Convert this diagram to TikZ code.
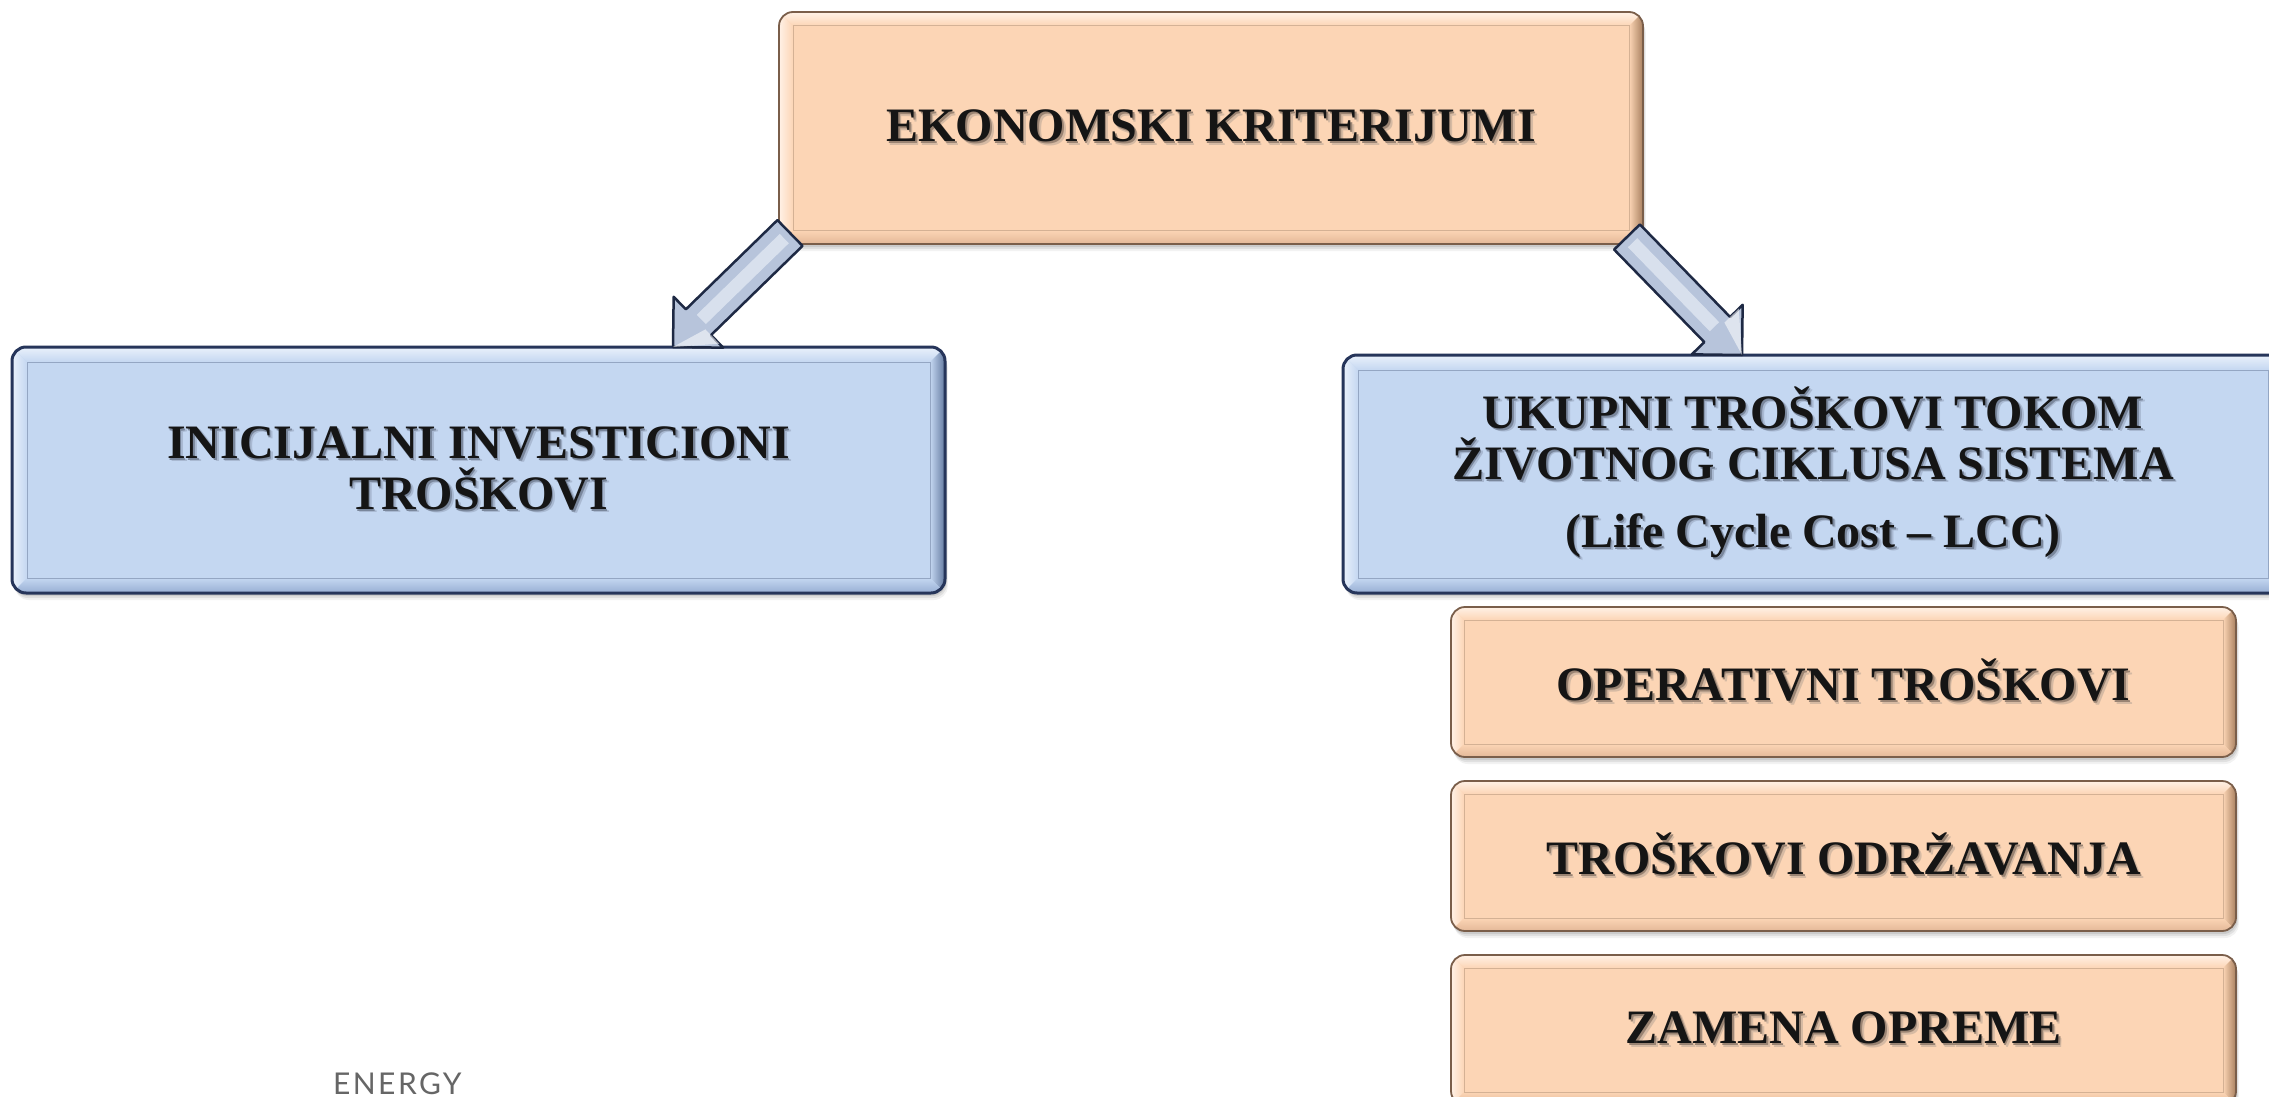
\documentclass[tikz,border=0pt]{standalone}
\usepackage{fontspec}
\setmainfont{Liberation Serif}
\newfontfamily\energyfont[LetterSpace=8]{Lato}
\usetikzlibrary{calc}
\pgfdeclarelayer{background}
\pgfsetlayers{background,main}

% colour sets for the bevelled boxes
\definecolor{peachFace}{HTML}{FCD5B5}
\definecolor{peachLight}{HTML}{FFF1E6}
\definecolor{peachLow}{HTML}{E3B898}
\definecolor{peachDark}{HTML}{A8805F}
\definecolor{peachLine}{HTML}{7A5E4A}
\definecolor{peachShA}{HTML}{9A8473}
\definecolor{peachShB}{HTML}{D6BAA3}
\definecolor{blueFace}{HTML}{C4D7F1}
\definecolor{blueLight}{HTML}{EAF1FB}
\definecolor{blueLow}{HTML}{97AED3}
\definecolor{blueDark}{HTML}{63799F}
\definecolor{blueLine}{HTML}{26355A}
\definecolor{blueShA}{HTML}{7A879C}
\definecolor{blueShB}{HTML}{A9B9D2}
\definecolor{arrowFill}{HTML}{B7C4DB}
\definecolor{arrowGlow}{HTML}{E4EAF4}
\definecolor{arrowLine}{HTML}{1E2944}
\definecolor{txt}{HTML}{151515}
\definecolor{energyGrey}{HTML}{666666}

% text with a soft drop shadow
\newcommand\shline[1]{\rlap{\kern3.5pt\raisebox{-3.5pt}{\textcolor{shadeB}{#1}}}\rlap{\kern1.8pt\raisebox{-1.8pt}{\textcolor{shadeA}{#1}}}#1}

\tikzset{
  boxtext/.style={rectangle, font=\bfseries\fontsize{48}{51}\selectfont, text=txt,
    align=center, inner sep=0pt, outer sep=0pt},
  peachbox/.style={boxtext, execute at begin node={\colorlet{shadeA}{peachShA}\colorlet{shadeB}{peachShB}}},
  bluebox/.style={boxtext, execute at begin node={\colorlet{shadeA}{blueShA}\colorlet{shadeB}{blueShB}}},
  arrowbody/.style={fill=arrowFill, draw=arrowLine, line width=2.5pt, line join=round},
  arrowshine/.style={arrowGlow, line width=13pt, opacity=0.75}
}

% bevelled background of a box node: #1 node, #2 colour set, #3 bevel depth, #4 outline width
\newcommand\bevelbox[4]{%
  \begin{pgfonlayer}{background}
    \foreach \o/\op in {7/0.05,5/0.07,3/0.09}
      \fill[black, opacity=\op, rounded corners=14pt]
        ($(#1.north west)+(0.4*\o,\o)$) rectangle ($(#1.south east)+(0.4*\o,\o)$);
    \begin{scope}
      \clip[rounded corners=14pt] (#1.north west) rectangle (#1.south east);
      \fill[#2Face] (#1.north west) rectangle (#1.south east);
      \shade[top color=#2Light, bottom color=#2Face]
        (#1.north west) -- (#1.north east) -- ($(#1.north east)+(-#3,#3)$) -- ($(#1.north west)+(#3,#3)$) -- cycle;
      \shade[left color=#2Light, right color=#2Face]
        (#1.north west) -- ($(#1.north west)+(#3,#3)$) -- ($(#1.south west)+(#3,-#3)$) -- (#1.south west) -- cycle;
      \shade[left color=#2Face, right color=#2Dark]
        (#1.north east) -- (#1.south east) -- ($(#1.south east)+(-#3,-#3)$) -- ($(#1.north east)+(-#3,#3)$) -- cycle;
      \shade[top color=#2Face, bottom color=#2Low]
        (#1.south west) -- ($(#1.south west)+(#3,-#3)$) -- ($(#1.south east)+(-#3,-#3)$) -- (#1.south east) -- cycle;
      \draw[#2Line, opacity=0.3, line width=1pt]
        ($(#1.north west)+(#3,#3)$) rectangle ($(#1.south east)+(-#3,-#3)$);
    \end{scope}
    \draw[#2Line, line width=#4, rounded corners=14pt] (#1.north west) rectangle (#1.south east);
  \end{pgfonlayer}%
}

% block arrow from tail #1 to tip #2
\newcommand\blockarrow[2]{%
  \coordinate (#1-h) at ($(#2)!35.5pt!(#1)$);
  \filldraw[arrowbody]
    ($(#1)!18pt!90:(#2)$) -- ($(#1-h)!18pt!90:(#2)$) -- ($(#1-h)!35.5pt!90:(#2)$) -- (#2)
    -- ($(#1-h)!35.5pt!-90:(#2)$) -- ($(#1-h)!18pt!-90:(#2)$) -- ($(#1)!18pt!-90:(#2)$) -- cycle;
  \draw[arrowshine] ($(#1)!8pt!(#2)$) -- ($(#1-h)!4pt!(#1)$);
  \fill[white, opacity=0.55] ($(#1-h)!30pt!90:(#2)$) -- (#2) -- ($(#1-h)!10pt!90:(#2)$) -- cycle;
}

\begin{document}
\begin{tikzpicture}[x=1pt, y=-1pt]
  \useasboundingbox (0,0) rectangle (2269,1097);
  \begin{pgfonlayer}{background}
    \fill[white] (0,0) rectangle (2269,1097);
  \end{pgfonlayer}

  % boxes
  \node[peachbox, minimum width=864pt, minimum height=232pt] (top) at (1211,128)
    {\shline{EKONOMSKI KRITERIJUMI}};
  \node[bluebox, minimum width=933pt, minimum height=246pt] (init) at (478.5,470)
    {\shline{INICIJALNI INVESTICIONI}\\\shline{TROŠKOVI}};
  \node[bluebox, minimum width=940pt, minimum height=238pt] (lcc) at (1813,474)
    {\shline{UKUPNI TROŠKOVI TOKOM}\\\shline{ŽIVOTNOG CIKLUSA SISTEMA}\\[17pt]\shline{(Life Cycle Cost – LCC)}};
  \node[peachbox, minimum width=785pt, minimum height=150pt] (op) at (1843.5,682)
    {\shline{OPERATIVNI TROŠKOVI}};
  \node[peachbox, minimum width=785pt, minimum height=150pt] (odr) at (1843.5,856)
    {\shline{TROŠKOVI ODRŽAVANJA}};
  \node[peachbox, minimum width=785pt, minimum height=150pt] (zam) at (1843.5,1030)
    {\shline{ZAMENA OPREME}};

  \bevelbox{top}{peach}{14}{1.8pt}
  \bevelbox{init}{blue}{15}{3pt}
  \bevelbox{lcc}{blue}{15}{3pt}
  \bevelbox{op}{peach}{13}{1.8pt}
  \bevelbox{odr}{peach}{13}{1.8pt}
  \bevelbox{zam}{peach}{13}{1.8pt}

  % connectors
  \coordinate (l-tail) at ($(top.south west)+(11,-11)$);
  \coordinate (l-tip)  at ($(init.north east)+(-272,0)$);
  \coordinate (r-tail) at ($(top.south east)+(-16,-7)$);
  \coordinate (r-tip)  at ($(lcc.north west)+(399,0)$);
  \blockarrow{l-tail}{l-tip}
  \blockarrow{r-tail}{r-tip}

  % footer mark
  \node[font=\energyfont\fontsize{30}{30}\selectfont, text=energyGrey, anchor=base west,
    inner sep=0pt] (energy) at (333,1094) {ENERGY};
\end{tikzpicture}
\end{document}
